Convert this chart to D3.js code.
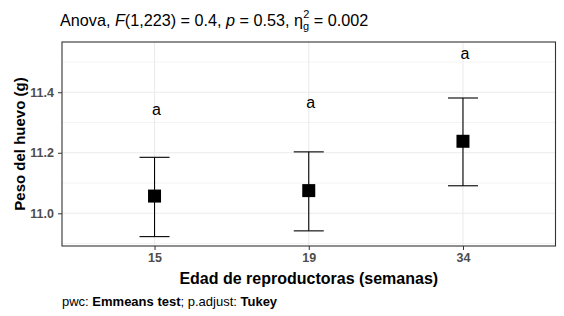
<!DOCTYPE html>
<html>
<head>
<meta charset="utf-8">
<script src="https://cdn.jsdelivr.net/npm/d3@7"></script>
<style>
  body { margin: 0; background: #fff; }
  svg { font-family: "Liberation Sans", Arial, sans-serif; }
</style>
</head>
<body>
<div id="grafico"></div>
<script>
// datos
const edades = ["15", "19", "34"];
const medias = [11.057, 11.075, 11.238];
const limSup = [11.185, 11.203, 11.381];
const limInf = [10.923, 10.942, 11.091];
const letras = ["a", "a", "a"];
const yLetras = [11.344, 11.366, 11.528];
const ticksY = [11.0, 11.2, 11.4];
const ticksMenores = [10.9, 11.1, 11.3, 11.5];

const datos = edades.map((e, i) => ({
    edad: e, media: medias[i], sup: limSup[i], inf: limInf[i], letra: letras[i], yl: yLetras[i]
}));

const width = 564, height = 316;
const panel = {left: 62, right: 555.5, top: 42, bottom: 246};

const svg = d3.select("#grafico")
    .append("svg")
    .attr("width", width)
    .attr("height", height);

const x = d3.scalePoint()
    .domain(edades)
    .range([panel.left, panel.right])
    .padding(0.6);

const y = d3.scaleLinear()
    .domain([10.892, 11.566])
    .range([panel.bottom, panel.top]);

// rejilla
svg.append("g").selectAll("line.menor")
    .data(ticksMenores)
    .enter().append("line")
    .attr("x1", panel.left).attr("x2", panel.right)
    .attr("y1", d => y(d)).attr("y2", d => y(d))
    .attr("stroke", "#ebebeb").attr("stroke-width", 0.6);

svg.append("g").selectAll("line.mayor")
    .data(ticksY)
    .enter().append("line")
    .attr("x1", panel.left).attr("x2", panel.right)
    .attr("y1", d => y(d)).attr("y2", d => y(d))
    .attr("stroke", "#ebebeb").attr("stroke-width", 1.1);

svg.append("g").selectAll("line")
    .data(edades)
    .enter().append("line")
    .attr("x1", d => x(d)).attr("x2", d => x(d))
    .attr("y1", panel.top).attr("y2", panel.bottom)
    .attr("stroke", "#ebebeb").attr("stroke-width", 1.1);

// ejes
const ejeY = svg.append("g")
    .attr("transform", `translate(${panel.left},0)`)
    .call(d3.axisLeft(y).tickValues(ticksY).tickFormat(d3.format(".1f")).tickSize(4).tickPadding(4));
const ejeX = svg.append("g")
    .attr("transform", `translate(0,${panel.bottom})`)
    .call(d3.axisBottom(x).tickSize(4).tickPadding(3));

[ejeY, ejeX].forEach(g => {
    g.select(".domain").remove();
    g.selectAll(".tick line").attr("stroke", "#333");
    g.selectAll(".tick text")
        .attr("fill", "#4d4d4d")
        .style("font-size", "12.5px")
        .style("font-weight", "bold")
        .style("font-family", "'Liberation Sans', Arial, sans-serif");
});

// barras de error
const barras = svg.append("g").selectAll("g")
    .data(datos)
    .enter().append("g");

barras.append("line")
    .attr("x1", d => x(d.edad)).attr("x2", d => x(d.edad))
    .attr("y1", d => y(d.sup)).attr("y2", d => y(d.inf))
    .attr("stroke", "#000").attr("stroke-width", 1.1);

barras.append("line")
    .attr("x1", d => x(d.edad) - 15).attr("x2", d => x(d.edad) + 15)
    .attr("y1", d => y(d.sup)).attr("y2", d => y(d.sup))
    .attr("stroke", "#000").attr("stroke-width", 1.1);

barras.append("line")
    .attr("x1", d => x(d.edad) - 15).attr("x2", d => x(d.edad) + 15)
    .attr("y1", d => y(d.inf)).attr("y2", d => y(d.inf))
    .attr("stroke", "#000").attr("stroke-width", 1.1);

barras.append("rect")
    .attr("x", d => x(d.edad) - 6.5)
    .attr("y", d => y(d.media) - 6.5)
    .attr("width", 13).attr("height", 13)
    .attr("fill", "#000");

barras.append("text")
    .attr("x", d => x(d.edad) + 2)
    .attr("y", d => y(d.yl))
    .attr("dy", "0.35em")
    .attr("text-anchor", "middle")
    .style("font-size", "16px")
    .text(d => d.letra);

// borde del panel
svg.append("rect")
    .attr("x", panel.left).attr("y", panel.top)
    .attr("width", panel.right - panel.left)
    .attr("height", panel.bottom - panel.top)
    .attr("fill", "none")
    .attr("stroke", "#333").attr("stroke-width", 1.1);

// titulo
const titulo = svg.append("text")
    .attr("x", 60).attr("y", 26)
    .style("font-size", "16.2px")
    .attr("fill", "#000");
titulo.append("tspan").text("Anova, ");
titulo.append("tspan").style("font-style", "italic").text("F");
titulo.append("tspan").text("(1,223) = 0.4, ");
titulo.append("tspan").style("font-style", "italic").text("p");
titulo.append("tspan").text(" = 0.53, η");
titulo.append("tspan").attr("dy", 4).style("font-size", "11px").text("g");
titulo.append("tspan").attr("dx", -6).attr("dy", -12).style("font-size", "11px").text("2");
titulo.append("tspan").attr("dy", 8).text(" = 0.002");

// etiquetas de ejes
svg.append("text")
    .attr("x", x("19"))
    .attr("y", 284)
    .attr("text-anchor", "middle")
    .style("font-size", "16px")
    .style("font-weight", "bold")
    .text("Edad de reproductoras (semanas)");

svg.append("text")
    .attr("transform", `translate(25,${(panel.top + panel.bottom) / 2}) rotate(-90)`)
    .attr("text-anchor", "middle")
    .style("font-size", "15px")
    .style("font-weight", "bold")
    .text("Peso del huevo (g)");

// pie
const pie = svg.append("text")
    .attr("x", 62).attr("y", 306)
    .style("font-size", "13px");
pie.append("tspan").text("pwc: ");
pie.append("tspan").style("font-weight", "bold").text("Emmeans test");
pie.append("tspan").text("; p.adjust: ");
pie.append("tspan").style("font-weight", "bold").text("Tukey");
</script>
</body>
</html>
